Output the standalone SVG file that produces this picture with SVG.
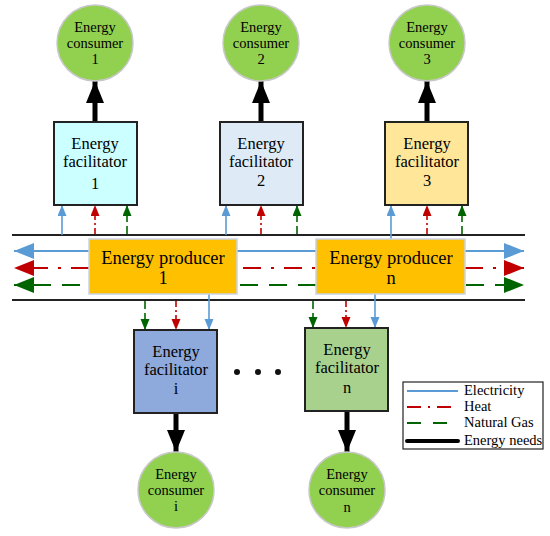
<svg xmlns="http://www.w3.org/2000/svg" width="550" height="536" viewBox="0 0 550 536">
<defs>
<style>
text{font-family:"Liberation Serif","DejaVu Serif",serif;fill:#000;text-anchor:middle}
.cons{fill:#92D050;stroke:#c8c8c8;stroke-width:1.5}
.cons-t{font-size:14.5px}
.fac{stroke:#222;stroke-width:2}
.fac-t{font-size:16.5px}
.prod{fill:#FFC000;stroke:#c9d3e6;stroke-width:1.5}
.prod-t{font-size:18.5px}
.bus{stroke:#222;stroke-width:2}
.el{stroke:#5B9BD5;stroke-width:2;fill:none}
.ht{stroke:#C00000;stroke-width:2.2;fill:none;stroke-dasharray:18 10 3 10}
.gs{stroke:#006400;stroke-width:2.2;fill:none;stroke-dasharray:18 11}
.hts{stroke:#C00000;stroke-width:1.6;fill:none;stroke-dasharray:6 3 2 3}
.gss{stroke:#006400;stroke-width:1.6;fill:none;stroke-dasharray:8 4}
.els{stroke:#5B9BD5;stroke-width:1.6;fill:none}
.need{stroke:#000;stroke-width:5;fill:none}
.leg-t{font-size:14.5px;text-anchor:start}
</style>
<marker id="aEl" markerUnits="userSpaceOnUse" markerWidth="24" markerHeight="18" refX="20" refY="8" orient="auto"><path d="M0,0 L20,8 L0,16 Z" fill="#5B9BD5"/></marker>
<marker id="aHt" markerUnits="userSpaceOnUse" markerWidth="24" markerHeight="18" refX="20" refY="8" orient="auto"><path d="M0,0 L20,8 L0,16 Z" fill="#C00000"/></marker>
<marker id="aGs" markerUnits="userSpaceOnUse" markerWidth="24" markerHeight="18" refX="20" refY="8" orient="auto"><path d="M0,0 L20,8 L0,16 Z" fill="#006400"/></marker>
<marker id="sEl" markerUnits="userSpaceOnUse" markerWidth="12" markerHeight="10" refX="11" refY="4.5" orient="auto"><path d="M0,0 L11,4.5 L0,9 Z" fill="#5B9BD5"/></marker>
<marker id="sHt" markerUnits="userSpaceOnUse" markerWidth="12" markerHeight="10" refX="11" refY="4.5" orient="auto"><path d="M0,0 L11,4.5 L0,9 Z" fill="#C00000"/></marker>
<marker id="sGs" markerUnits="userSpaceOnUse" markerWidth="12" markerHeight="10" refX="11" refY="4.5" orient="auto"><path d="M0,0 L11,4.5 L0,9 Z" fill="#006400"/></marker>
<marker id="aNd" markerUnits="userSpaceOnUse" markerWidth="24" markerHeight="20" refX="22" refY="9" orient="auto"><path d="M0,0 L22,9 L0,18 Z" fill="#000"/></marker>
</defs>

<g id="connectors">
<line class="bus" x1="12" y1="235" x2="525" y2="235"/>
<line class="bus" x1="12" y1="300" x2="525" y2="300"/>
<line class="el" x1="90" y1="251" x2="14" y2="251" marker-end="url(#aEl)"/>
<line class="ht" x1="89" y1="268" x2="14" y2="268" marker-end="url(#aHt)"/>
<line class="gs" x1="80" y1="285" x2="14" y2="285" marker-end="url(#aGs)"/>
<line class="el" x1="237" y1="251" x2="316" y2="251"/>
<line class="ht" x1="243" y1="268" x2="316" y2="268"/>
<line class="gs" x1="240" y1="285" x2="316" y2="285"/>
<line class="el" x1="465" y1="251" x2="524" y2="251" marker-end="url(#aEl)"/>
<line class="ht" x1="465" y1="268" x2="524" y2="268" marker-end="url(#aHt)"/>
<line class="gs" x1="466" y1="285" x2="524" y2="285" marker-end="url(#aGs)"/>

<line class="els" x1="62" y1="235" x2="62" y2="205" marker-end="url(#sEl)"/>
<line class="hts" x1="95" y1="234" x2="95" y2="205" marker-end="url(#sHt)"/>
<line class="gss" x1="127" y1="234" x2="127" y2="205" marker-end="url(#sGs)"/>
<line class="els" x1="226" y1="235" x2="226" y2="205" marker-end="url(#sEl)"/>
<line class="hts" x1="261" y1="234" x2="261" y2="205" marker-end="url(#sHt)"/>
<line class="gss" x1="297" y1="234" x2="297" y2="205" marker-end="url(#sGs)"/>
<line class="els" x1="391" y1="239" x2="391" y2="205" marker-end="url(#sEl)"/>
<line class="hts" x1="427" y1="234" x2="427" y2="205" marker-end="url(#sHt)"/>
<line class="gss" x1="462" y1="234" x2="462" y2="205" marker-end="url(#sGs)"/>

<line class="gss" x1="145" y1="301" x2="145" y2="330" marker-end="url(#sGs)"/>
<line class="hts" x1="176" y1="301" x2="176" y2="330" marker-end="url(#sHt)"/>
<line class="els" x1="209" y1="294" x2="209" y2="330" marker-end="url(#sEl)"/>
<line class="gss" x1="313" y1="301" x2="313" y2="328" marker-end="url(#sGs)"/>
<line class="hts" x1="346" y1="301" x2="346" y2="328" marker-end="url(#sHt)"/>
<line class="els" x1="375" y1="294" x2="375" y2="328" marker-end="url(#sEl)"/>

<line class="need" x1="95" y1="122" x2="95" y2="81" marker-end="url(#aNd)"/>
<line class="need" x1="261" y1="122" x2="261" y2="81" marker-end="url(#aNd)"/>
<line class="need" x1="427" y1="122" x2="427" y2="81" marker-end="url(#aNd)"/>
<line class="need" x1="176" y1="413" x2="176" y2="452" marker-end="url(#aNd)"/>
<line class="need" x1="347" y1="411" x2="347" y2="452" marker-end="url(#aNd)"/>
</g>

<g id="consumer1"><circle class="cons" cx="95" cy="43" r="38"/>
<text class="cons-t" x="95" y="32">Energy</text><text class="cons-t" x="95" y="48">consumer</text><text class="cons-t" x="95" y="64">1</text></g>
<g id="consumer2"><circle class="cons" cx="261" cy="43" r="38"/>
<text class="cons-t" x="261" y="32">Energy</text><text class="cons-t" x="261" y="48">consumer</text><text class="cons-t" x="261" y="64">2</text></g>
<g id="consumer3"><circle class="cons" cx="427" cy="43" r="38"/>
<text class="cons-t" x="427" y="32">Energy</text><text class="cons-t" x="427" y="48">consumer</text><text class="cons-t" x="427" y="64">3</text></g>

<g id="facilitator1"><rect class="fac" x="54" y="122" width="83" height="83" fill="#CCFFFF"/>
<text class="fac-t" x="95" y="149">Energy</text><text class="fac-t" x="95" y="167">facilitator</text><text class="fac-t" x="95" y="189">1</text></g>
<g id="facilitator2"><rect class="fac" x="220" y="122" width="83" height="83" fill="#DEEBF7"/>
<text class="fac-t" x="261" y="149">Energy</text><text class="fac-t" x="261" y="167">facilitator</text><text class="fac-t" x="261" y="186">2</text></g>
<g id="facilitator3"><rect class="fac" x="385" y="122" width="83" height="83" fill="#FFE699"/>
<text class="fac-t" x="427" y="149">Energy</text><text class="fac-t" x="427" y="167">facilitator</text><text class="fac-t" x="427" y="186">3</text></g>

<g id="producer1"><rect class="prod" x="89" y="239" width="148" height="55"/>
<text class="prod-t" x="163" y="264">Energy producer</text><text class="prod-t" x="163" y="284">1</text></g>
<g id="producerN"><rect class="prod" x="316" y="239" width="149" height="55"/>
<text class="prod-t" x="391" y="264">Energy producer</text><text class="prod-t" x="391" y="284">n</text></g>

<g id="facilitatorI"><rect class="fac" x="134" y="330" width="83" height="83" fill="#8EA9DB"/>
<text class="fac-t" x="176" y="357">Energy</text><text class="fac-t" x="176" y="375">facilitator</text><text class="fac-t" x="176" y="394">i</text></g>
<g id="facilitatorN"><rect class="fac" x="305" y="328" width="83" height="83" fill="#A9D18E"/>
<text class="fac-t" x="347" y="355">Energy</text><text class="fac-t" x="347" y="373">facilitator</text><text class="fac-t" x="347" y="393">n</text></g>

<g id="ellipsis" fill="#111"><circle cx="237" cy="372" r="3"/><circle cx="258" cy="372" r="3"/><circle cx="278" cy="372" r="3"/></g>

<g id="consumerI"><circle class="cons" cx="176" cy="490" r="38"/>
<text class="cons-t" x="176" y="479">Energy</text><text class="cons-t" x="176" y="495">consumer</text><text class="cons-t" x="176" y="511">i</text></g>
<g id="consumerN"><circle class="cons" cx="347" cy="490" r="38"/>
<text class="cons-t" x="347" y="479">Energy</text><text class="cons-t" x="347" y="495">consumer</text><text class="cons-t" x="347" y="512">n</text></g>

<g id="legend">
<rect x="403" y="382" width="140" height="67" fill="#fff" stroke="#222" stroke-width="1.2"/>
<line x1="407" y1="391" x2="458" y2="391" stroke="#5B9BD5" stroke-width="2"/>
<line x1="407" y1="407" x2="458" y2="407" stroke="#C00000" stroke-width="2" stroke-dasharray="14 7 2 7"/>
<line x1="407" y1="423" x2="458" y2="423" stroke="#006400" stroke-width="2" stroke-dasharray="14 12"/>
<line x1="407" y1="441" x2="458" y2="441" stroke="#000" stroke-width="4" stroke-linecap="round"/>
<text class="leg-t" x="464" y="395">Electricity</text>
<text class="leg-t" x="464" y="411">Heat</text>
<text class="leg-t" x="464" y="427">Natural Gas</text>
<text class="leg-t" x="464" y="445">Energy needs</text>
</g>
</svg>
